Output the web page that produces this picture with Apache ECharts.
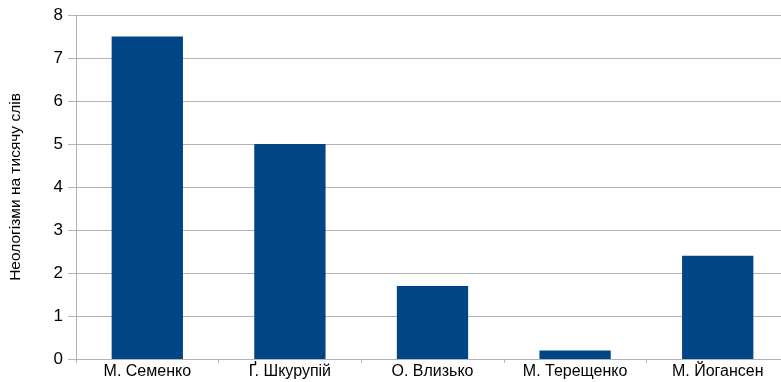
<!DOCTYPE html>
<html>
<head>
<meta charset="utf-8">
<script src="https://cdn.jsdelivr.net/npm/echarts@6/dist/echarts.min.js"></script>
<style>
html,body{margin:0;padding:0;background:#fff;}
#chart{width:781px;height:382px;}
</style>
</head>
<body>
<div id="chart"></div>
<script>
const categories = ['М. Семенко', 'Ґ. Шкурупій', 'О. Влизько', 'М. Терещенко', 'М. Йогансен'];
const values = [7.5, 5.0, 1.7, 0.2, 2.4];
const yAxisTitle = 'Неологізми на тисячу слів';

const chart = echarts.init(document.getElementById('chart'), null, {renderer: 'canvas'});
chart.setOption({
  animation: false,
  backgroundColor: '#ffffff',
  grid: {left: 76, top: 15, bottom: 23, width: 713, containLabel: false, outerBoundsMode: 'none'},
  xAxis: {
    type: 'category',
    data: categories,
    axisLine: {lineStyle: {color: '#b3b3b3', width: 1}},
    axisTick: {show: true, length: 4, lineStyle: {color: '#b3b3b3'}},
    axisLabel: {color: '#000', fontFamily: 'Liberation Sans', fontSize: 16, margin: 5}
  },
  yAxis: {
    type: 'value',
    min: 0, max: 8, interval: 1,
    name: yAxisTitle,
    nameLocation: 'middle',
    nameGap: 52,
    nameRotate: 90,
    nameTextStyle: {color: '#000', fontFamily: 'Liberation Sans', fontSize: 15.5},
    axisLine: {show: true, lineStyle: {color: '#b3b3b3', width: 1}},
    axisTick: {show: true, length: 8, lineStyle: {color: '#b3b3b3'}},
    axisLabel: {color: '#000', fontFamily: 'Liberation Sans', fontSize: 17, margin: 13},
    splitLine: {lineStyle: {color: '#b3b3b3', width: 1}}
  },
  series: [{
    type: 'bar',
    data: values,
    barWidth: '50%',
    itemStyle: {color: '#004586'}
  }]
});
</script>
</body>
</html>
